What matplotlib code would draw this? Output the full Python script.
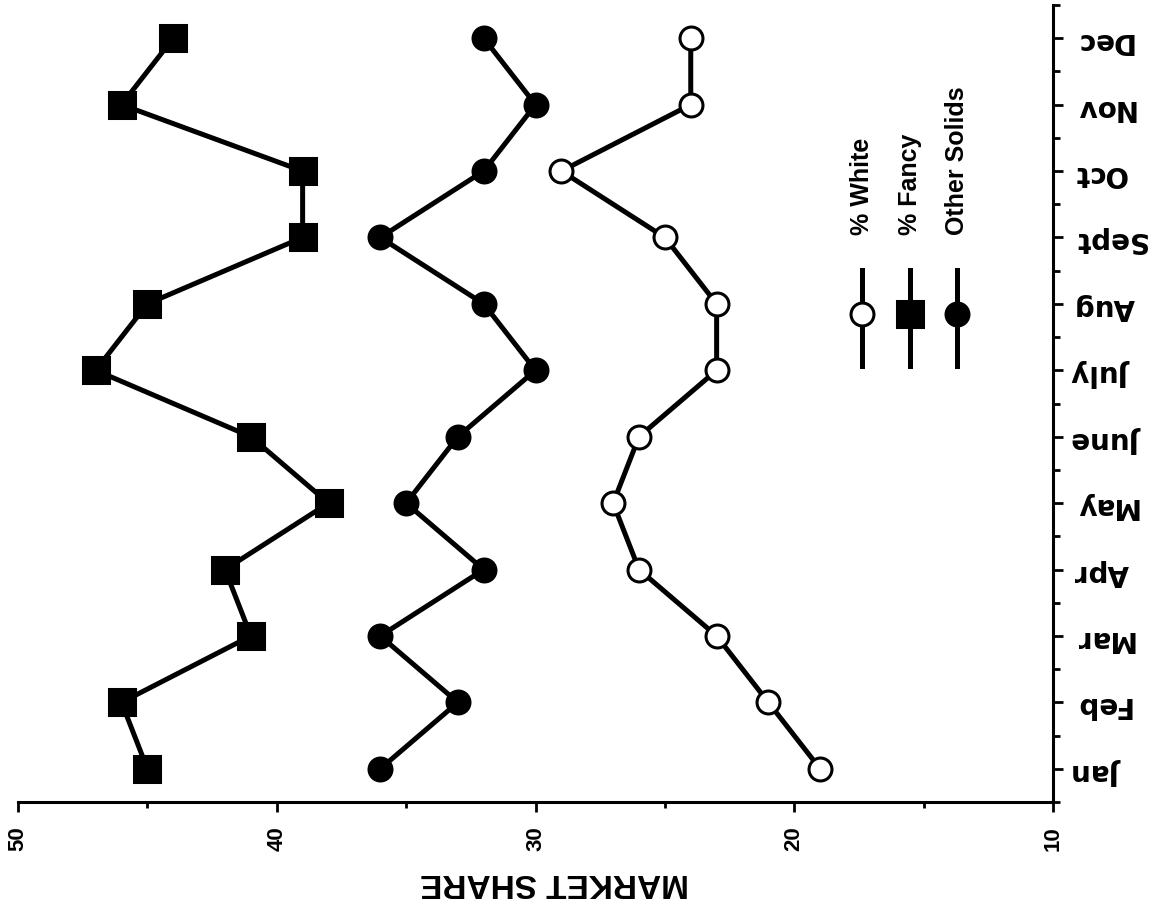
import matplotlib.pyplot as plt
from matplotlib.lines import Line2D

# monthly market share (percent); the scanned page is rotated, so months run up the right side
months = ['Jan', 'Feb', 'Mar', 'Apr', 'May', 'June', 'July', 'Aug', 'Sept', 'Oct', 'Nov', 'Dec']
pct_white = [19, 21, 23, 26, 27, 26, 23, 23, 25, 29, 24, 24]
pct_fancy = [45, 46, 41, 42, 38, 41, 47, 45, 39, 39, 46, 44]
other_solids = [36, 33, 36, 32, 35, 33, 30, 32, 36, 32, 30, 32]
share_ticks = [50, 40, 30, 20, 10]
share_minor = [45, 35, 25, 15]

series = [
    ('% White', pct_white, dict(marker='o', mfc='white', ms=16.5)),
    ('% Fancy', pct_fancy, dict(marker='s', mfc='black', ms=18.5)),
    ('Other Solids', other_solids, dict(marker='o', mfc='black', ms=16.5)),
]

helv = ['Liberation Sans', 'DejaVu Sans']
wide = ['DejaVu Sans']
plt.rcParams['font.family'] = helv
plt.rcParams['font.weight'] = 'bold'

fig = plt.figure(figsize=(11.67, 9.09), dpi=100)
ax = fig.add_axes([18 / 1167, 1 - 802 / 909, (1053 - 18) / 1167, 797 / 909])

pos = list(range(len(months)))
for name, vals, style in series:
    ax.plot(vals, pos, color='black', lw=3.6, mec='black', mew=2.2, **style)

ax.set_xlim(50, 10)
ax.set_ylim(-0.5, len(months) - 0.5)

# axes frame: only bottom and right
for side in ['left', 'top']:
    ax.spines[side].set_visible(False)
for side in ['bottom', 'right']:
    ax.spines[side].set_linewidth(2.2)

ax.set_xticks(share_ticks)
ax.set_xticklabels([str(t) for t in share_ticks], rotation=90, fontsize=16, fontweight='bold')
ax.set_xticks(share_minor, minor=True)

ax.yaxis.tick_right()
ax.set_yticks(pos)
ax.set_yticklabels(months, rotation=180, fontsize=20, fontweight='bold')
# month labels are letter-spaced in the scan, so use the wider face
for tick in ax.yaxis.get_major_ticks():
    tick.label1.set_fontfamily(wide)
    tick.label2.set_fontfamily(wide)
ax.set_yticks([p - 0.5 for p in pos] + [pos[-1] + 0.5], minor=True)

ax.tick_params(axis='x', which='major', length=7.5, width=2, pad=10)
ax.tick_params(axis='x', which='minor', length=4, width=2)
ax.tick_params(axis='y', which='major', length=7, width=2, pad=8)
ax.tick_params(axis='y', which='minor', length=5, width=2)

ax.set_xlabel('MARKET SHARE', rotation=180, fontsize=24, fontweight='bold',
              va='center', ha='center')
ax.xaxis.set_label_coords((555 - 18) / 1035, (802 - 883) / 797)

# hand-drawn vertical legend, labels read upward
leg_x = [0.8155, 0.862, 0.907]
for (name, vals, style), lx in zip(series, leg_x):
    ax.add_line(Line2D([lx, lx], [0.547, 0.667], transform=ax.transAxes,
                       color='black', lw=3.6))
    ax.add_line(Line2D([lx], [0.6126], transform=ax.transAxes, color='black',
                       lw=0, mec='black', mew=2.2, **style))
    ax.text(lx, 0.711, name, transform=ax.transAxes, rotation=90,
            ha='center', va='bottom', fontsize=18, fontweight='bold')

fig.savefig('out.png', dpi=100)
